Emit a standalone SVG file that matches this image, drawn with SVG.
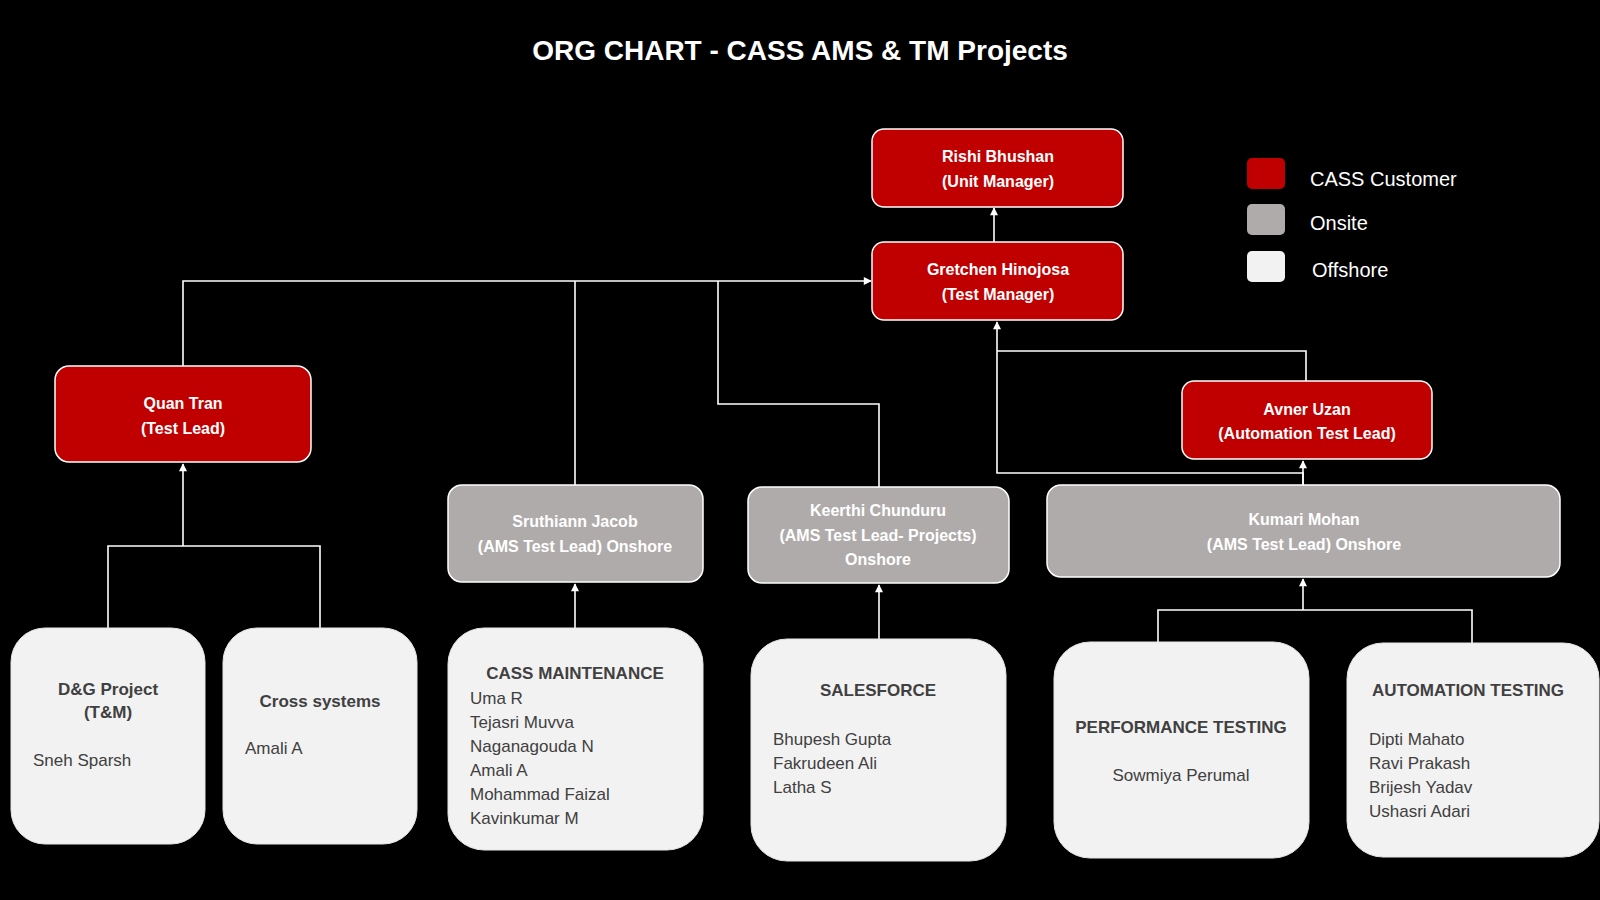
<svg xmlns="http://www.w3.org/2000/svg" width="1600" height="900" viewBox="0 0 1600 900">
<defs>
<marker id="arr" viewBox="0 0 10 10" refX="9" refY="5" markerWidth="9" markerHeight="8" orient="auto" markerUnits="userSpaceOnUse">
<path d="M0,0 L10,5 L0,10 z" fill="#FFFFFF"/>
</marker>
<style>
.red{fill:#C00000;stroke:#FFFFFF;stroke-width:1.5}
.grey{fill:#AFABAB;stroke:#FFFFFF;stroke-width:1.5}
.off{fill:#F2F2F2;stroke:#E6E6E6;stroke-width:1}
.ln{fill:none;stroke:#FFFFFF;stroke-width:1.6}
.nt{font-family:"Liberation Sans",Arial,sans-serif;font-weight:bold;font-size:16px;fill:#FFFFFF;text-anchor:middle}
.hd{font-family:"Liberation Sans",Arial,sans-serif;font-weight:bold;font-size:17px;fill:#404040;text-anchor:middle}
.tx{font-family:"Liberation Sans",Arial,sans-serif;font-size:17px;fill:#404040}
.lg{font-family:"Liberation Sans",Arial,sans-serif;font-size:20px;fill:#FFFFFF}
</style>
</defs>
<rect x="0" y="0" width="1600" height="900" fill="#000000"/>
<text x="800" y="60" font-family="'Liberation Sans',Arial,sans-serif" font-weight="bold" font-size="28" fill="#FFFFFF" text-anchor="middle">ORG CHART - CASS AMS &amp; TM Projects</text>

<g id="legend">
<rect x="1247" y="158" width="38" height="31" rx="5" fill="#C00000"/>
<rect x="1247" y="204" width="38" height="31" rx="5" fill="#AFABAB"/>
<rect x="1247" y="251" width="38" height="31" rx="5" fill="#F2F2F2"/>
<text class="lg" x="1310" y="186">CASS Customer</text>
<text class="lg" x="1310" y="230">Onsite</text>
<text class="lg" x="1312" y="277">Offshore</text>
</g>

<g id="connectors">
<line class="ln" x1="994" y1="242" x2="994" y2="208" marker-end="url(#arr)"/>
<path class="ln" d="M183,366 L183,281 L871,281" marker-end="url(#arr)"/>
<path class="ln" d="M575,485 L575,281"/>
<path class="ln" d="M718,281 L718,404 L879,404 L879,487"/>
<path class="ln" d="M1306,381 L1306,351 L997,351"/>
<path class="ln" d="M1303,485 L1303,473 L997,473 L997,322" marker-end="url(#arr)"/>
<line class="ln" x1="1303" y1="485" x2="1303" y2="461" marker-end="url(#arr)"/>
<path class="ln" d="M108,628 L108,546 L320,546 L320,628"/>
<line class="ln" x1="183" y1="546" x2="183" y2="464" marker-end="url(#arr)"/>
<line class="ln" x1="575" y1="628" x2="575" y2="584" marker-end="url(#arr)"/>
<line class="ln" x1="879" y1="639" x2="879" y2="585" marker-end="url(#arr)"/>
<path class="ln" d="M1158,642 L1158,610 L1472,610 L1472,643"/>
<line class="ln" x1="1303" y1="610" x2="1303" y2="579" marker-end="url(#arr)"/>
</g>

<g id="rishi">
<rect class="red" x="872" y="129" width="251" height="78" rx="12"/>
<text class="nt" x="998" y="162">Rishi Bhushan</text>
<text class="nt" x="998" y="187">(Unit Manager)</text>
</g>
<g id="gretchen">
<rect class="red" x="872" y="242" width="251" height="78" rx="12"/>
<text class="nt" x="998" y="275">Gretchen Hinojosa</text>
<text class="nt" x="998" y="300">(Test Manager)</text>
</g>
<g id="quan">
<rect class="red" x="55" y="366" width="256" height="96" rx="14"/>
<text class="nt" x="183" y="409">Quan Tran</text>
<text class="nt" x="183" y="434">(Test Lead)</text>
</g>
<g id="avner">
<rect class="red" x="1182" y="381" width="250" height="78" rx="12"/>
<text class="nt" x="1307" y="415">Avner Uzan</text>
<text class="nt" x="1307" y="439">(Automation Test Lead)</text>
</g>
<g id="sruthiann">
<rect class="grey" x="448" y="485" width="255" height="97" rx="14"/>
<text class="nt" x="575" y="527">Sruthiann Jacob</text>
<text class="nt" x="575" y="552">(AMS Test Lead) Onshore</text>
</g>
<g id="keerthi">
<rect class="grey" x="748" y="487" width="261" height="96" rx="14"/>
<text class="nt" x="878" y="516">Keerthi Chunduru</text>
<text class="nt" x="878" y="541">(AMS Test Lead- Projects)</text>
<text class="nt" x="878" y="565">Onshore</text>
</g>
<g id="kumari">
<rect class="grey" x="1047" y="485" width="513" height="92" rx="14"/>
<text class="nt" x="1304" y="525">Kumari Mohan</text>
<text class="nt" x="1304" y="550">(AMS Test Lead) Onshore</text>
</g>

<g id="dg">
<rect class="off" x="11" y="628" width="194" height="216" rx="34"/>
<text class="hd" x="108" y="695">D&amp;G Project</text>
<text class="hd" x="108" y="718">(T&amp;M)</text>
<text class="tx" x="33" y="766">Sneh Sparsh</text>
</g>
<g id="cross">
<rect class="off" x="223" y="628" width="194" height="216" rx="34"/>
<text class="hd" x="320" y="707">Cross systems</text>
<text class="tx" x="245" y="754">Amali A</text>
</g>
<g id="cassmaint">
<rect class="off" x="448" y="628" width="255" height="222" rx="36"/>
<text class="hd" x="575" y="679">CASS MAINTENANCE</text>
<text class="tx" x="470" y="704">Uma R</text>
<text class="tx" x="470" y="728">Tejasri Muvva</text>
<text class="tx" x="470" y="752">Naganagouda N</text>
<text class="tx" x="470" y="776">Amali A</text>
<text class="tx" x="470" y="800">Mohammad Faizal</text>
<text class="tx" x="470" y="824">Kavinkumar M</text>
</g>
<g id="salesforce">
<rect class="off" x="751" y="639" width="255" height="222" rx="36"/>
<text class="hd" x="878" y="696">SALESFORCE</text>
<text class="tx" x="773" y="745">Bhupesh Gupta</text>
<text class="tx" x="773" y="769">Fakrudeen Ali</text>
<text class="tx" x="773" y="793">Latha S</text>
</g>
<g id="perf">
<rect class="off" x="1054" y="642" width="255" height="216" rx="36"/>
<text class="hd" x="1181" y="733">PERFORMANCE TESTING</text>
<text class="tx" x="1181" y="781" text-anchor="middle">Sowmiya Perumal</text>
</g>
<g id="auto">
<rect class="off" x="1347" y="643" width="252" height="214" rx="36"/>
<text class="hd" x="1468" y="696">AUTOMATION TESTING</text>
<text class="tx" x="1369" y="745">Dipti Mahato</text>
<text class="tx" x="1369" y="769">Ravi Prakash</text>
<text class="tx" x="1369" y="793">Brijesh Yadav</text>
<text class="tx" x="1369" y="817">Ushasri Adari</text>
</g>
</svg>
